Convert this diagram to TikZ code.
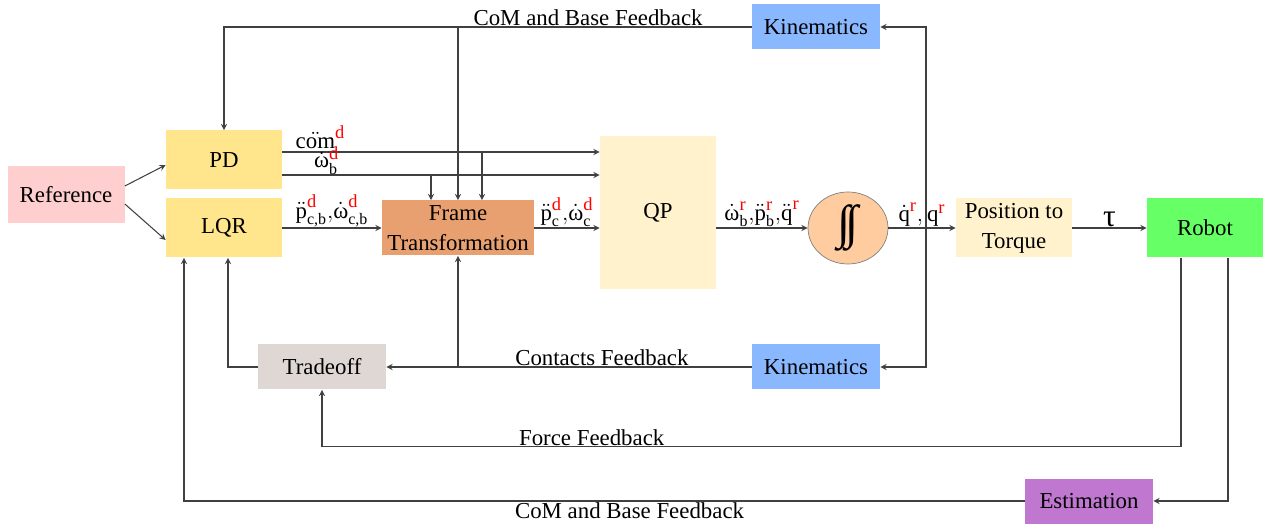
\RequirePackage{fix-cm}
\documentclass[tikz,border=0pt]{standalone}
\usepackage{fontspec}
\setmainfont{Liberation Serif}
\usepackage{amsmath}
\usepackage{tikz}
\usetikzlibrary{shapes.geometric}

\definecolor{refpink}{RGB}{255,207,207}
\definecolor{ctrlyellow}{RGB}{255,229,140}
\definecolor{frameorange}{RGB}{232,160,112}
\definecolor{qpcream}{RGB}{255,242,204}
\definecolor{intpeach}{RGB}{255,204,160}
\definecolor{robotgreen}{RGB}{102,255,102}
\definecolor{kinblue}{RGB}{138,184,255}
\definecolor{tradegray}{RGB}{222,215,212}
\definecolor{estpurple}{RGB}{191,119,207}

\newcommand{\dsup}{\textcolor{red}{\text{\fontsize{10.5}{11}\selectfont d}}}
\newcommand{\rsup}{\textcolor{red}{\text{\fontsize{10.5}{11}\selectfont r}}}

\begin{document}
\begin{tikzpicture}[font=\fontsize{13}{15}\selectfont, >=stealth,
    block/.style={rectangle, minimum width=2.32cm, minimum height=1.18cm, align=center, inner sep=2pt},
    fbblock/.style={rectangle, minimum width=2.56cm, minimum height=0.9cm, inner sep=2pt},
    flow/.style={->, black!75, line width=0.6pt},
    lbl/.style={inner sep=0.5pt, text=black}]
    \useasboundingbox (0,0) rectangle (25.4,10.62);

    % Define nodes of the control chain
    \node[block, fill=refpink, minimum width=2.34cm, minimum height=1.14cm] at (1.32,6.72) (Ref) {Reference};
    \node[block, fill=ctrlyellow] at (4.48,7.42) (PD) {PD};
    \node[block, fill=ctrlyellow] at (4.48,6.06) (LQR) {LQR};
    \node[block, fill=frameorange, minimum width=3.04cm, minimum height=1.1cm, inner sep=0pt] at (9.16,6.06) (Frame) {Frame\\[2pt]Transformation};
    \node[block, fill=qpcream, minimum height=3.06cm] at (13.16,6.36) (QP) {QP};
    \node[ellipse, draw=black!50, fill=intpeach, minimum width=1.6cm, minimum height=1.44cm, inner sep=0pt] at (16.96,6.06) (Int) {\fontsize{27}{27}\selectfont ∫\kern-0.12em∫};
    \node[block, fill=qpcream, inner sep=0pt] at (20.28,6.06) (PosTq) {Position to\\[2pt]Torque};
    \node[block, fill=robotgreen] at (24.10,6.06) (Robot) {Robot};

    % Define feedback nodes
    \node[fbblock, fill=kinblue] at (16.32,10.08) (KinTop) {Kinematics};
    \node[fbblock, fill=kinblue] at (16.32,3.28) (KinBot) {Kinematics};
    \node[fbblock, fill=tradegray] at (6.44,3.28) (Tradeoff) {Tradeoff};
    \node[fbblock, fill=estpurple] at (21.78,0.6) (Est) {Estimation};

    \coordinate (comout) at ([yshift=0.16cm]PD.east);
    \coordinate (omgout) at ([yshift=-0.3cm]PD.east);
    \coordinate (qsplit) at (18.52,6.06);

    % Reference to both controllers
    \draw[flow] ([yshift=0.18cm]Ref.east) -- ([yshift=-0.1cm]PD.west);
    \draw[flow] ([yshift=-0.18cm]Ref.east) -- ([yshift=-0.24cm]LQR.west);

    % Forward path
    \draw[flow] (comout) -- node[lbl, anchor=base, yshift=2pt, pos=0.12] {$\ddot{\text{com}}^{\dsup}$} (comout -| QP.west);
    \draw[flow] (omgout) -- node[lbl, anchor=base, yshift=4pt, pos=0.14] {$\dot{\text{ω}}_{\text{b}}^{\raisebox{-3.5pt}{\dsup}}$} (omgout -| QP.west);
    \draw[flow] (LQR.east) -- node[lbl, above] {$\ddot{\text{p}}_{\text{c,b}}^{\dsup}{,}\dot{\text{ω}}_{\text{c,b}}^{\dsup}$} (Frame.west);
    \draw[flow] (Frame.east) -- node[lbl, above] {$\ddot{\text{p}}_{\text{c}}^{\dsup}{,}\dot{\text{ω}}_{\text{c}}^{\dsup}$} (Frame.east -| QP.west);
    \draw[flow] (QP.east |- Int.west) -- node[lbl, above] {$\dot{\text{ω}}_{\text{b}}^{\rsup}{,}\ddot{\text{p}}_{\text{b}}^{\rsup}{,}\ddot{\text{q}}^{\rsup}$} (Int.west);
    \draw[flow] (Int.east) -- node[lbl, above] {$\dot{\text{q}}^{\rsup}{,}\,\text{q}^{\rsup}$} (PosTq.west);
    \draw[flow] (PosTq.east) -- node[lbl, above] {\fontsize{18}{18}\selectfont τ} (Robot.west);

    % Desired values also enter the frame transformation
    \draw[flow] ([xshift=0.48cm]Frame.north |- comout) -- ([xshift=0.48cm]Frame.north);
    \draw[flow] ([xshift=-0.54cm]Frame.north |- omgout) -- ([xshift=-0.54cm]Frame.north);

    % Joint feedback to kinematics
    \draw[flow] (qsplit) |- (KinTop.east);
    \draw[flow] (qsplit) |- (KinBot.east);

    % CoM and base feedback from kinematics
    \draw[flow] (KinTop.west) -| node[lbl, above, pos=0.155] {CoM and Base Feedback} (PD.north);
    \draw[flow] (Frame.north |- KinTop.west) -- (Frame.north);

    % Contacts feedback
    \draw[flow] (KinBot.west) -- node[lbl, above, pos=0.41] {Contacts Feedback} (Tradeoff.east);
    \draw[flow] (Frame.south |- KinBot.west) -- (Frame.south);
    \draw[flow] (Tradeoff.west) -| ([xshift=0.08cm]LQR.south);

    % Robot feedback
    \draw[flow] ([xshift=-0.48cm]Robot.south) -- ++(0,-3.78) -| node[lbl, above, pos=0.343] {Force Feedback} (Tradeoff.south);
    \draw[flow] ([xshift=0.46cm]Robot.south) |- (Est.east);
    \draw[flow] (Est.west) -| node[lbl, below, pos=0.235] {CoM and Base Feedback} ([xshift=-0.8cm]LQR.south);

\end{tikzpicture}
\end{document}
